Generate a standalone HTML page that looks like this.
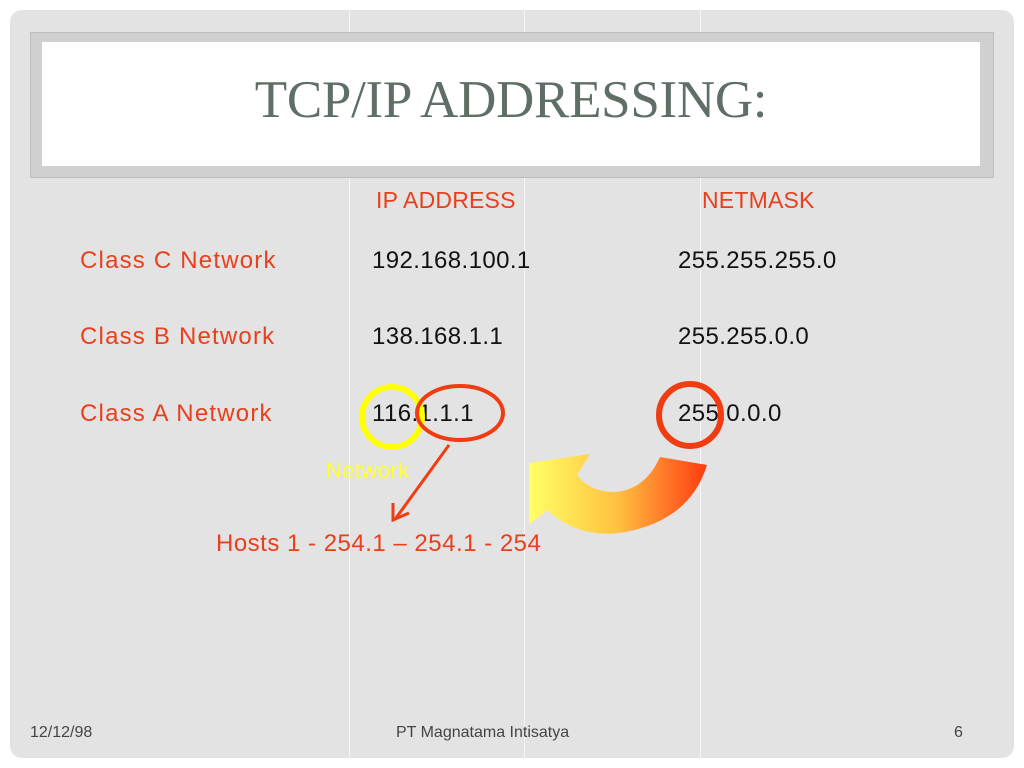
<!DOCTYPE html>
<html><head><meta charset="utf-8"><style>
body{margin:0;width:1024px;height:768px;background:#fff;position:relative;overflow:hidden;font-family:"Liberation Sans",sans-serif}
.panel{position:absolute;left:10px;top:10px;width:1004px;height:748px;border-radius:12px;background:#e3e3e3}
.vl{position:absolute;top:10px;height:748px;width:1px;background:#f6f6f6}
.frame{position:absolute;left:30px;top:32px;width:964px;height:146px;background:#d0d0d0;border:1px solid #bdbdbd;box-sizing:border-box}
.inner{position:absolute;left:42px;top:42px;width:938px;height:124px;background:#fff}
.title{position:absolute;left:42px;top:70px;width:938px;text-align:center;font-family:"Liberation Serif",serif;font-size:53px;color:#5f6f66;letter-spacing:-0.3px}
.t{position:absolute;font-size:24px;white-space:nowrap;letter-spacing:0.4px}
.r{color:#e8401c}.k{color:#111}
.f{position:absolute;font-size:16px;color:#444;top:724px}
</style></head><body>
<div class="panel"></div>
<div class="vl" style="left:349px"></div><div class="vl" style="left:524px"></div><div class="vl" style="left:700px"></div>
<div class="frame"></div><div class="inner"></div>
<div class="title">TCP/IP ADDRESSING:</div>
<div class="t r" style="left:376px;top:187px;font-size:23px;letter-spacing:0.2px">IP ADDRESS</div>
<div class="t r" style="left:702px;top:187px;font-size:23px;letter-spacing:0.2px">NETMASK</div>
<div class="t r" style="left:80px;top:247px;letter-spacing:1.2px">Class C Network</div>
<div class="t r" style="left:80px;top:323px;letter-spacing:1.2px">Class B Network</div>
<div class="t r" style="left:80px;top:400px;letter-spacing:1.2px">Class A Network</div>
<div class="t k" style="left:372px;top:247px">192.168.100.1</div>
<div class="t k" style="left:372px;top:323px">138.168.1.1</div>
<div class="t k" style="left:372px;top:400px">116.1.1.1</div>
<div class="t k" style="left:678px;top:247px">255.255.255.0</div>
<div class="t k" style="left:678px;top:323px">255.255.0.0</div>
<div class="t k" style="left:678px;top:400px">255.0.0.0</div>
<div class="t" style="left:326px;top:458px;color:#ffff33;font-size:22px">Network</div>
<div class="t r" style="left:216px;top:530px;letter-spacing:0.5px">Hosts 1 - 254.1 – 254.1 - 254</div>
<svg width="1024" height="768" style="position:absolute;left:0;top:0">
<defs><linearGradient id="g" x1="0" x2="1" y1="0" y2="0"><stop offset="0" stop-color="#ffff66"/><stop offset="0.5" stop-color="#ffc040"/><stop offset="1" stop-color="#ff3a10"/></linearGradient></defs>
<circle cx="392" cy="417" r="30" fill="none" stroke="#ffff00" stroke-width="6"/>
<ellipse cx="460" cy="413" rx="43" ry="27" fill="none" stroke="#f03c10" stroke-width="4"/>
<circle cx="690" cy="415" r="31" fill="none" stroke="#f03c10" stroke-width="6"/>
<line x1="449" y1="445" x2="396" y2="518" stroke="#f03c10" stroke-width="3"/>
<polyline points="393,503 393,520 409,513" fill="none" stroke="#f03c10" stroke-width="3"/>
<path d="M590,454 L529,463 L529,525 L547,510 Q580,540 625,532 Q690,520 707,465 L660,457 Q645,490 615,492 Q590,492 577,475 Z" fill="url(#g)"/>
</svg>
<div class="f" style="left:30px">12/12/98</div>
<div class="f" style="left:396px">PT Magnatama Intisatya</div>
<div class="f" style="left:954px">6</div>
</body></html>
